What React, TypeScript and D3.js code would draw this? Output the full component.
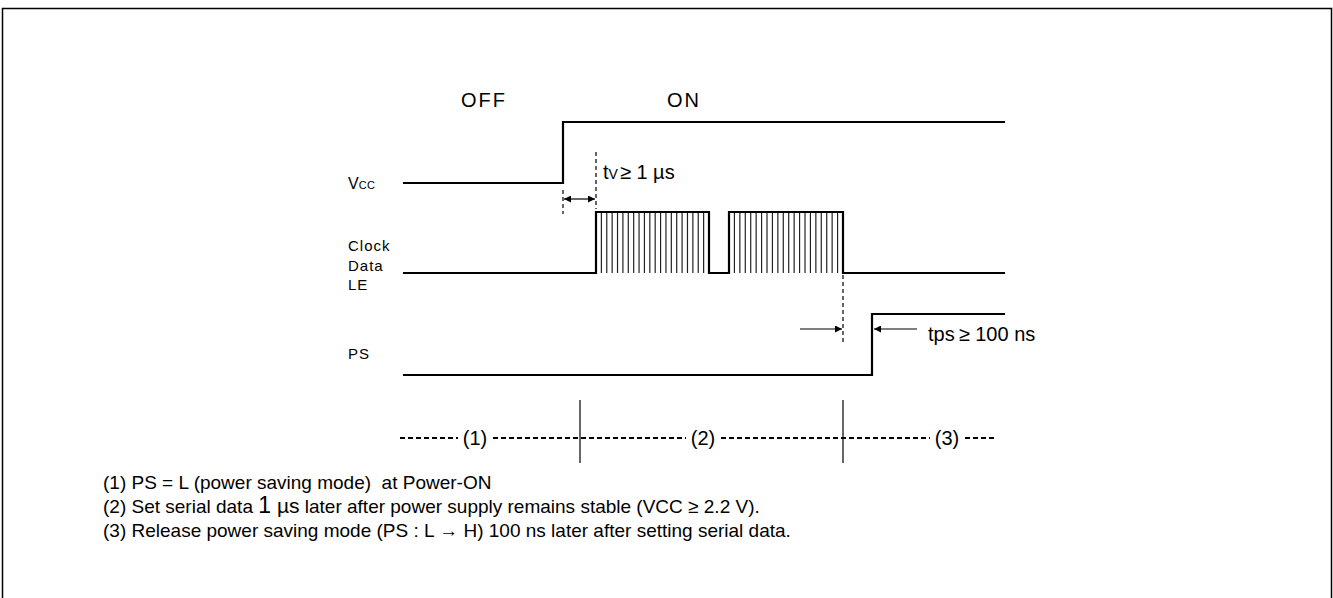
import React from "react";
import * as d3 from "d3";

// time axis in arbitrary units (0..602)
const timeDomain = [0, 602];
const vccRise = 160;
const clockBursts = [
  [193, 306],
  [326, 440],
];
const stripesPerBurst = 20;
const psRise = 469;
const tvSpan = [160, 193];
const tpsSpan = [440, 469];
const phaseBounds = [177, 440];
const phaseLabels = ["(1)", "(2)", "(3)"];
const phaseLabelPos = [72, 300, 544];
const signalNames = ["Clock", "Data", "LE"];
const notes = [
  "(1) PS = L (power saving mode)  at Power-ON",
  "(2) Set serial data ",
  "(3) Release power saving mode (PS : L \u2192 H) 100 ns later after setting serial data.",
];

const W = 1333;
const H = 598;
const FONT = "'Liberation Sans', Arial, sans-serif";

export default function App() {
  const x = d3.scaleLinear().domain(timeDomain).range([403, 1005]);
  const yVcc = d3.scaleLinear().domain([0, 1]).range([183, 122]);
  const yClk = d3.scaleLinear().domain([0, 1]).range([273, 212]);
  const yPs = d3.scaleLinear().domain([0, 1]).range([375, 314]);

  const line = (ys: d3.ScaleLinear<number, number>) =>
    d3
      .line<[number, number]>()
      .x((d) => x(d[0]))
      .y((d) => ys(d[1]));

  const vccPts: [number, number][] = [
    [0, 0],
    [vccRise, 0],
    [vccRise, 1],
    [602, 1],
  ];
  const clkPts: [number, number][] = [[0, 0]];
  clockBursts.forEach(([a, b]) => {
    clkPts.push([a, 0], [a, 1], [b, 1], [b, 0]);
  });
  clkPts.push([602, 0]);
  const psPts: [number, number][] = [
    [0, 0],
    [psRise, 0],
    [psRise, 1],
    [602, 1],
  ];

  const stripes: number[] = [];
  clockBursts.forEach(([a, b]) => {
    const s = d3.scaleLinear().domain([0, stripesPerBurst + 1]).range([a, b]);
    for (let i = 1; i <= stripesPerBurst; i++) stripes.push(s(i));
  });

  const textStyle = { fontFamily: FONT, fill: "#000" };

  // bottom dashed phase line segments
  const phaseY = 438;
  const gaps = phaseLabelPos.map((p) => [x(p) - 12, x(p) + 12]);
  const segs: [number, number][] = [];
  let start = x(0) - 3;
  gaps.forEach(([g0, g1]) => {
    segs.push([start, g0 - 5]);
    start = g1 + 6;
  });
  segs.push([start, x(594)]);

  return (
    <svg
      width={W}
      height={H}
      style={{ position: "absolute", left: 0, top: 0, background: "#fff" }}
    >
      <defs>
        <marker
          id="ah"
          viewBox="0 0 10 10"
          refX="10"
          refY="5"
          markerWidth="11"
          markerHeight="7"
          markerUnits="userSpaceOnUse"
          orient="auto-start-reverse"
        >
          <path d="M0,0 L10,5 L0,10 z" fill="#000" />
        </marker>
      </defs>
      <rect x={2.5} y={8.5} width={1329} height={600} fill="#fff" stroke="#000" strokeWidth={1.5} />

      {/* OFF / ON */}
      <text x={484} y={107} textAnchor="middle" fontSize={20} letterSpacing={2} style={textStyle}>
        OFF
      </text>
      <text x={684} y={107} textAnchor="middle" fontSize={20} letterSpacing={2} style={textStyle}>
        ON
      </text>

      {/* Vcc label */}
      <text x={348} y={189} fontSize={16} style={textStyle}>
        V<tspan fontSize={11} letterSpacing={0.5}>CC</tspan>
      </text>
      {signalNames.map((n, i) => (
        <text key={n} x={348} y={251 + i * 19.5} fontSize={15} letterSpacing={1} style={textStyle}>
          {n}
        </text>
      ))}
      <text x={348} y={359} fontSize={15} letterSpacing={1} style={textStyle}>
        PS
      </text>

      {/* waveforms */}
      <path d={line(yVcc)(vccPts) || ""} fill="none" stroke="#000" strokeWidth={2.2} />
      {stripes.map((s, i) => (
        <line key={i} x1={x(s)} x2={x(s)} y1={yClk(1)} y2={yClk(0)} stroke="#222" strokeWidth={1.2} />
      ))}
      <path d={line(yClk)(clkPts) || ""} fill="none" stroke="#000" strokeWidth={2.2} />
      <path d={line(yPs)(psPts) || ""} fill="none" stroke="#000" strokeWidth={2.2} />

      {/* tv marker */}
      <line x1={x(tvSpan[0])} x2={x(tvSpan[0])} y1={190} y2={214} stroke="#000" strokeWidth={1.2} strokeDasharray="4,3" />
      <line x1={x(tvSpan[1])} x2={x(tvSpan[1])} y1={152} y2={209} stroke="#000" strokeWidth={1.2} strokeDasharray="4,3" />
      <line
        x1={x(tvSpan[0]) + 1}
        x2={x(tvSpan[1]) - 1}
        y1={199}
        y2={199}
        stroke="#000"
        strokeWidth={1.2}
        markerStart="url(#ah)"
        markerEnd="url(#ah)"
      />
      <text x={603} y={179} fontSize={20} style={textStyle}>
        t<tspan fontSize={14}>V</tspan>
        <tspan dx={2}>{"\u2265 1 \u00b5s"}</tspan>
      </text>

      {/* tps marker */}
      <line x1={x(tpsSpan[0])} x2={x(tpsSpan[0])} y1={275} y2={342} stroke="#000" strokeWidth={1.2} strokeDasharray="4,3" />
      <line x1={800} x2={x(tpsSpan[0]) - 1} y1={329} y2={329} stroke="#000" strokeWidth={1.2} markerEnd="url(#ah)" />
      <line x1={917} x2={x(tpsSpan[1]) + 2} y1={329} y2={329} stroke="#000" strokeWidth={1.2} markerEnd="url(#ah)" />
      <text x={928} y={341} fontSize={20} style={textStyle}>
        {"tps\u2009\u2265 100 ns"}
      </text>

      {/* phases */}
      {segs.map(([a, b], i) => (
        <line key={i} x1={a} x2={b} y1={phaseY} y2={phaseY} stroke="#000" strokeWidth={2} strokeDasharray="5,3" />
      ))}
      {phaseBounds.map((p, i) => (
        <line key={i} x1={x(p)} x2={x(p)} y1={400} y2={463} stroke="#000" strokeWidth={1.2} />
      ))}
      {phaseLabels.map((l, i) => (
        <text key={l} x={x(phaseLabelPos[i])} y={445} textAnchor="middle" fontSize={20} style={textStyle}>
          {l}
        </text>
      ))}

      {/* notes */}
      <text x={103} y={489} fontSize={19} xmlSpace="preserve" style={{ ...textStyle, whiteSpace: "pre" }}>
        {notes[0]}
      </text>
      <text x={103} y={513} fontSize={19} style={textStyle}>
        {notes[1]}
        <tspan fontSize={23}>1</tspan>
        <tspan fontSize={21}>{" \u00b5s"}</tspan>
        {" later after power supply remains stable (VCC \u2265 2.2 V)."}
      </text>
      <text x={103} y={537} fontSize={19} style={textStyle}>
        {notes[2]}
      </text>
    </svg>
  );
}
